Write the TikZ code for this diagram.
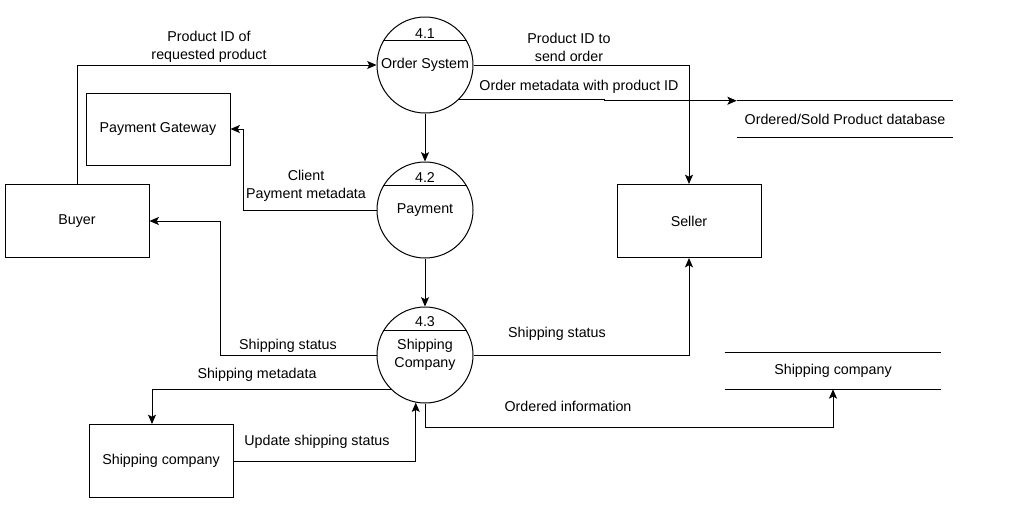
\documentclass[tikz,border=0pt]{standalone}
\usepackage{fontspec}
\setmainfont{Liberation Sans}
\usepackage{tikz}
\usetikzlibrary{shapes,arrows.meta}
\usetikzlibrary{positioning}
\tikzstyle{arrow} = [line width=0.75pt,->,>={Stealth[length=7pt,width=6pt,inset=1.5pt]}]
\tikzstyle{entity} = [
    rectangle, minimum width=108pt, minimum height=54.75pt, text centered,
    draw=black, line width=0.75pt]
\tikzstyle{process} = [
    circle, minimum size=72pt, inner sep=0pt, align=center,
    draw=black, line width=0.75pt]
\tikzstyle{store} = [rectangle, minimum width=162pt, minimum height=27pt, text centered]
\tikzstyle{flow} = [align=center, inner sep=0pt]

\begin{document}
\begin{tikzpicture}[x=0.75pt, y=-0.75pt, font=\fontsize{10.7}{13.5}\selectfont]
\useasboundingbox (0,0) rectangle (1035,525);

% processes
\node (p41) [process] at (425,65) {Order System};
\node (p42) [process, below=36pt of p41] {Payment};
\node (p43) [process, below=36pt of p42] {Shipping\\Company};
\draw [line width=0.75pt] (p41.150) -- (p41.30);
\draw [line width=0.75pt] (p42.150) -- (p42.30);
\draw [line width=0.75pt] (p43.150) -- (p43.30);
\node (n41) at (425,34) {4.1};
\node (n42) at (425,178) {4.2};
\node (n43) at (425,322) {4.3};

% external entities
\node (buyer) [entity] at (77,221) {Buyer};
\node (gateway) [entity, minimum height=54pt] at (158,129) {Payment Gateway};
\node (seller) [entity] at (689,221) {Seller};
\node (shipext) [entity] at (161,461) {Shipping company};

% data stores
\node (db1) [store] at (845,119) {Ordered/Sold Product database};
\draw [line width=0.75pt] (db1.north west) -- (db1.north east);
\draw [line width=0.75pt] (db1.south west) -- (db1.south east);
\node (db2) [store] at (833,371) {Shipping company};
\draw [line width=0.75pt] (db2.north west) -- (db2.north east);
\draw [line width=0.75pt] (db2.south west) -- (db2.south east);

% data flows
\draw [arrow] (buyer.north) |- (p41.west);
\node (l1) [flow] at (209,47) {Product ID of\\requested product};
\draw [arrow] (p41.east) -| (seller.north);
\node (l2) [flow] at (569,47) {Product ID to\\send order};
\draw [arrow] (p41.-45) -- ++(145,0) |- (db1.north west);
\node (l3) [flow] at (579,87) {Order metadata with product ID};
\draw [arrow] (p41.south) -- (p42.north);
\draw [arrow] (p42.south) -- (p43.north);
\draw [arrow] (p42.west) -- ++(-133,0) |- (gateway.east);
\node (l4) [flow] at (306,186) {Client\\Payment metadata};
\draw [arrow] (p43.west) -- ++(-156,0) |- (buyer.east);
\node (l5) [flow] at (288,346) {Shipping status};
\draw [arrow] (p43.east) -| (seller.south);
\node (l6) [flow] at (557,334) {Shipping status};
\draw [arrow] (p43.225) -| ([xshift=-6.75pt]shipext.north);
\node (l7) [flow] at (257,375) {Shipping metadata};
\draw [arrow] (shipext.east) -| (p43.259);
\node (l8) [flow] at (317,442) {Update shipping status};
\draw [arrow] (p43.south) -- ++(0,24) -| (db2.south);
\node (l9) [flow] at (568,406) {Ordered information};
\end{tikzpicture}
\end{document}
